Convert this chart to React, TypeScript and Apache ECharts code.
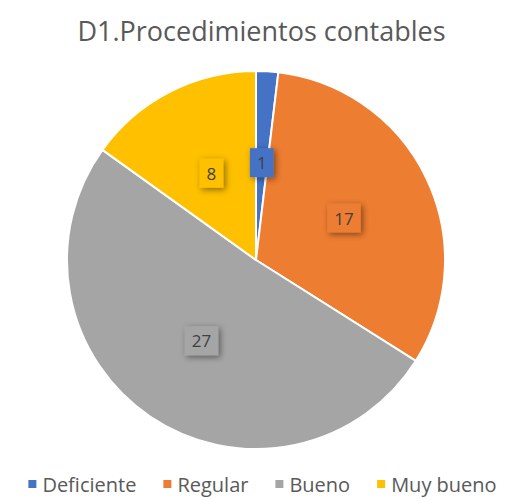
import React, { useEffect, useRef } from "react";
import * as echarts from "echarts";

const categories = ["Deficiente", "Regular", "Bueno", "Muy bueno"];
const values = [1, 17, 27, 8];
const colors = ["#4472C4", "#ED7D31", "#A5A5A5", "#FFC000"];
const titleText = "D1.Procedimientos contables";

export default function App() {
  const ref = useRef<HTMLDivElement>(null);
  useEffect(() => {
    if (!ref.current) return;
    const chart = echarts.init(ref.current, null, { renderer: "svg" });
    chart.setOption({
      animation: false,
      title: {
        text: titleText,
        left: "center",
        top: 4,
        textStyle: { fontFamily: "Open Sans", fontSize: 27, fontWeight: "normal", color: "#595959" },
      },
      legend: {
        bottom: 0,
        left: "center",
        icon: "rect",
        itemWidth: 10,
        itemHeight: 10,
        itemGap: 25,
        textStyle: { fontFamily: "Open Sans", fontSize: 20, color: "#595959" },
        data: categories,
      },
      series: [
        {
          type: "pie",
          center: [248, 252],
          radius: [0, 189],
          startAngle: 90,
          clockwise: true,
          itemStyle: { borderColor: "#fff", borderWidth: 2 },
          label: {
            show: true,
            position: "inside",
            formatter: "{c}",
            fontFamily: "Open Sans",
            fontSize: 17,
            color: "#404040",
            backgroundColor: "inherit",
            padding: [6, 7],
            shadowColor: "rgba(0,0,0,0.45)",
            shadowBlur: 6,
            shadowOffsetX: 2,
            shadowOffsetY: 2,
          },
          labelLine: { show: false },
          data: categories.map((c, i) => ({ name: c, value: values[i], itemStyle: { color: colors[i] } })),
        },
      ],
    });
    return () => chart.dispose();
  }, []);
  return <div ref={ref} style={{ width: 507, height: 491 }} />;
}
